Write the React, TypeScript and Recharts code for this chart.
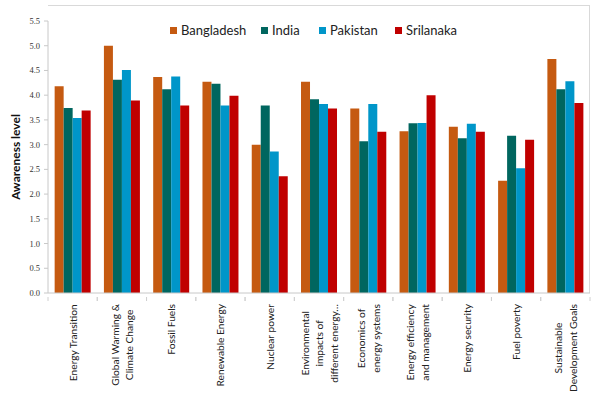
import { Bar, BarChart, Legend, XAxis, YAxis } from "recharts";

const categories = [
  "Energy Transition",
  "Global Warming &\nClimate Change",
  "Fossil Fuels",
  "Renewable Energy",
  "Nuclear power",
  "Environmental\nimpacts of\ndifferent energy…",
  "Economics of\nenergy systems",
  "Energy efficiency\nand management",
  "Energy security",
  "Fuel poverty",
  "Sustainable\nDevelopment Goals",
];

const bangladesh = [4.18, 5.0, 4.37, 4.27, 3.0, 4.27, 3.73, 3.27, 3.36, 2.27, 4.73];
const india = [3.74, 4.31, 4.12, 4.23, 3.79, 3.92, 3.07, 3.43, 3.13, 3.18, 4.12];
const pakistan = [3.54, 4.51, 4.38, 3.79, 2.86, 3.82, 3.82, 3.44, 3.42, 2.52, 4.28];
const srilanka = [3.69, 3.89, 3.79, 3.99, 2.36, 3.73, 3.26, 4.0, 3.26, 3.1, 3.84];

const yTicks = [0, 0.5, 1, 1.5, 2, 2.5, 3, 3.5, 4, 4.5, 5, 5.5];

const SERIES = [
  { key: "Bangladesh", color: "#C55A11" },
  { key: "India", color: "#00665F" },
  { key: "Pakistan", color: "#0096C9" },
  { key: "Srilanaka", color: "#C00000" },
];

const rows = categories.map((c, i) => ({
  category: c,
  Bangladesh: bangladesh[i],
  India: india[i],
  Pakistan: pakistan[i],
  Srilanaka: srilanka[i],
}));

const W = 600;
const H = 394;
const M = { top: 5, right: 10, left: 0, bottom: 0 };
const Y_W = 48;
const X_H = 101;
const PLOT_W = W - M.left - M.right - Y_W;
const STEP = PLOT_W / categories.length;

const LABEL_SIZE = 10.2;
let ctx: CanvasRenderingContext2D | null = null;
function textWidth(s: string): number {
  if (!ctx) ctx = document.createElement("canvas").getContext("2d");
  if (!ctx) return s.length * 5.5;
  ctx.font = `${LABEL_SIZE}px Lato`;
  return ctx.measureText(s).width;
}

function CategoryTick(props: any) {
  const { x, y, payload } = props;
  const lines: string[] = String(payload.value).split("\n");
  const maxW = Math.max(...lines.map(textWidth));
  const lh = 14.5;
  const top = y + 3;
  return (
    <g>
      <line x1={x - STEP / 2} x2={x - STEP / 2} y1={y - 4} y2={y} stroke="#d0d0d0" />
      <line x1={x + STEP / 2} x2={x + STEP / 2} y1={y - 4} y2={y} stroke="#d0d0d0" />
      <text
        transform={`translate(${x}, ${top}) rotate(-90)`}
        fontFamily="Lato"
        fontSize={LABEL_SIZE}
        fill="#222"
        textAnchor="middle"
      >
        {lines.map((l, i) => (
          <tspan key={i} x={-maxW / 2} y={(i - (lines.length - 1) / 2) * lh + 4}>
            {l}
          </tspan>
        ))}
      </text>
    </g>
  );
}

function LegendBox() {
  return (
    <div style={{ display: "flex", fontFamily: "Lato", fontSize: 13, color: "#222" }}>
      {SERIES.map((s, i) => (
        <div
          key={s.key}
          style={{ display: "flex", alignItems: "center", width: [91, 58, 76, 80][i] }}
        >
          <span style={{ width: 7, height: 7, background: s.color, marginRight: 4, display: "inline-block" }} />
          <span>{s.key}</span>
        </div>
      ))}
    </div>
  );
}

export default function App() {
  return (
    <div style={{ position: "absolute", left: 0, top: 0, width: W, height: H, background: "#fff" }}>
      <div
        style={{
          position: "absolute",
          left: M.left + Y_W,
          top: M.top,
          width: PLOT_W,
          height: H - M.top - X_H,
          borderTop: "1px solid #d9d9d9",
          borderRight: "1px solid #d9d9d9",
          boxSizing: "border-box",
        }}
      />
      <BarChart
        width={W}
        height={H}
        data={rows}
        margin={M}
        barCategoryGap="13.5%"
        barGap={0}
        style={{ position: "absolute", left: 0, top: 0 }}
      >
        <XAxis
          dataKey="category"
          height={X_H}
          interval={0}
          tickLine={false}
          axisLine={{ stroke: "#c8c8c8" }}
          tick={<CategoryTick />}
        />
        <YAxis
          width={Y_W}
          domain={[0, 5.5]}
          ticks={yTicks}
          tickFormatter={(v: number) => v.toFixed(1)}
          tick={{ fontSize: 8.5, fill: "#333", fontFamily: "Liberation Serif" }}
          tickSize={4}
          tickMargin={4}
          tickLine={{ stroke: "#c8c8c8" }}
          axisLine={{ stroke: "#c8c8c8" }}
          label={{
            value: "Awareness level",
            angle: -90,
            position: "insideLeft",
            offset: 16,
            style: { fontFamily: "Lato", fontWeight: 700, fontSize: 12, fill: "#111", textAnchor: "middle" },
          }}
        />
        <Legend
          verticalAlign="top"
          content={<LegendBox />}
          wrapperStyle={{ position: "absolute", top: 22, left: 170, width: 330 }}
        />
        {SERIES.map((s) => (
          <Bar key={s.key} dataKey={s.key} fill={s.color} isAnimationActive={false} />
        ))}
      </BarChart>
    </div>
  );
}
